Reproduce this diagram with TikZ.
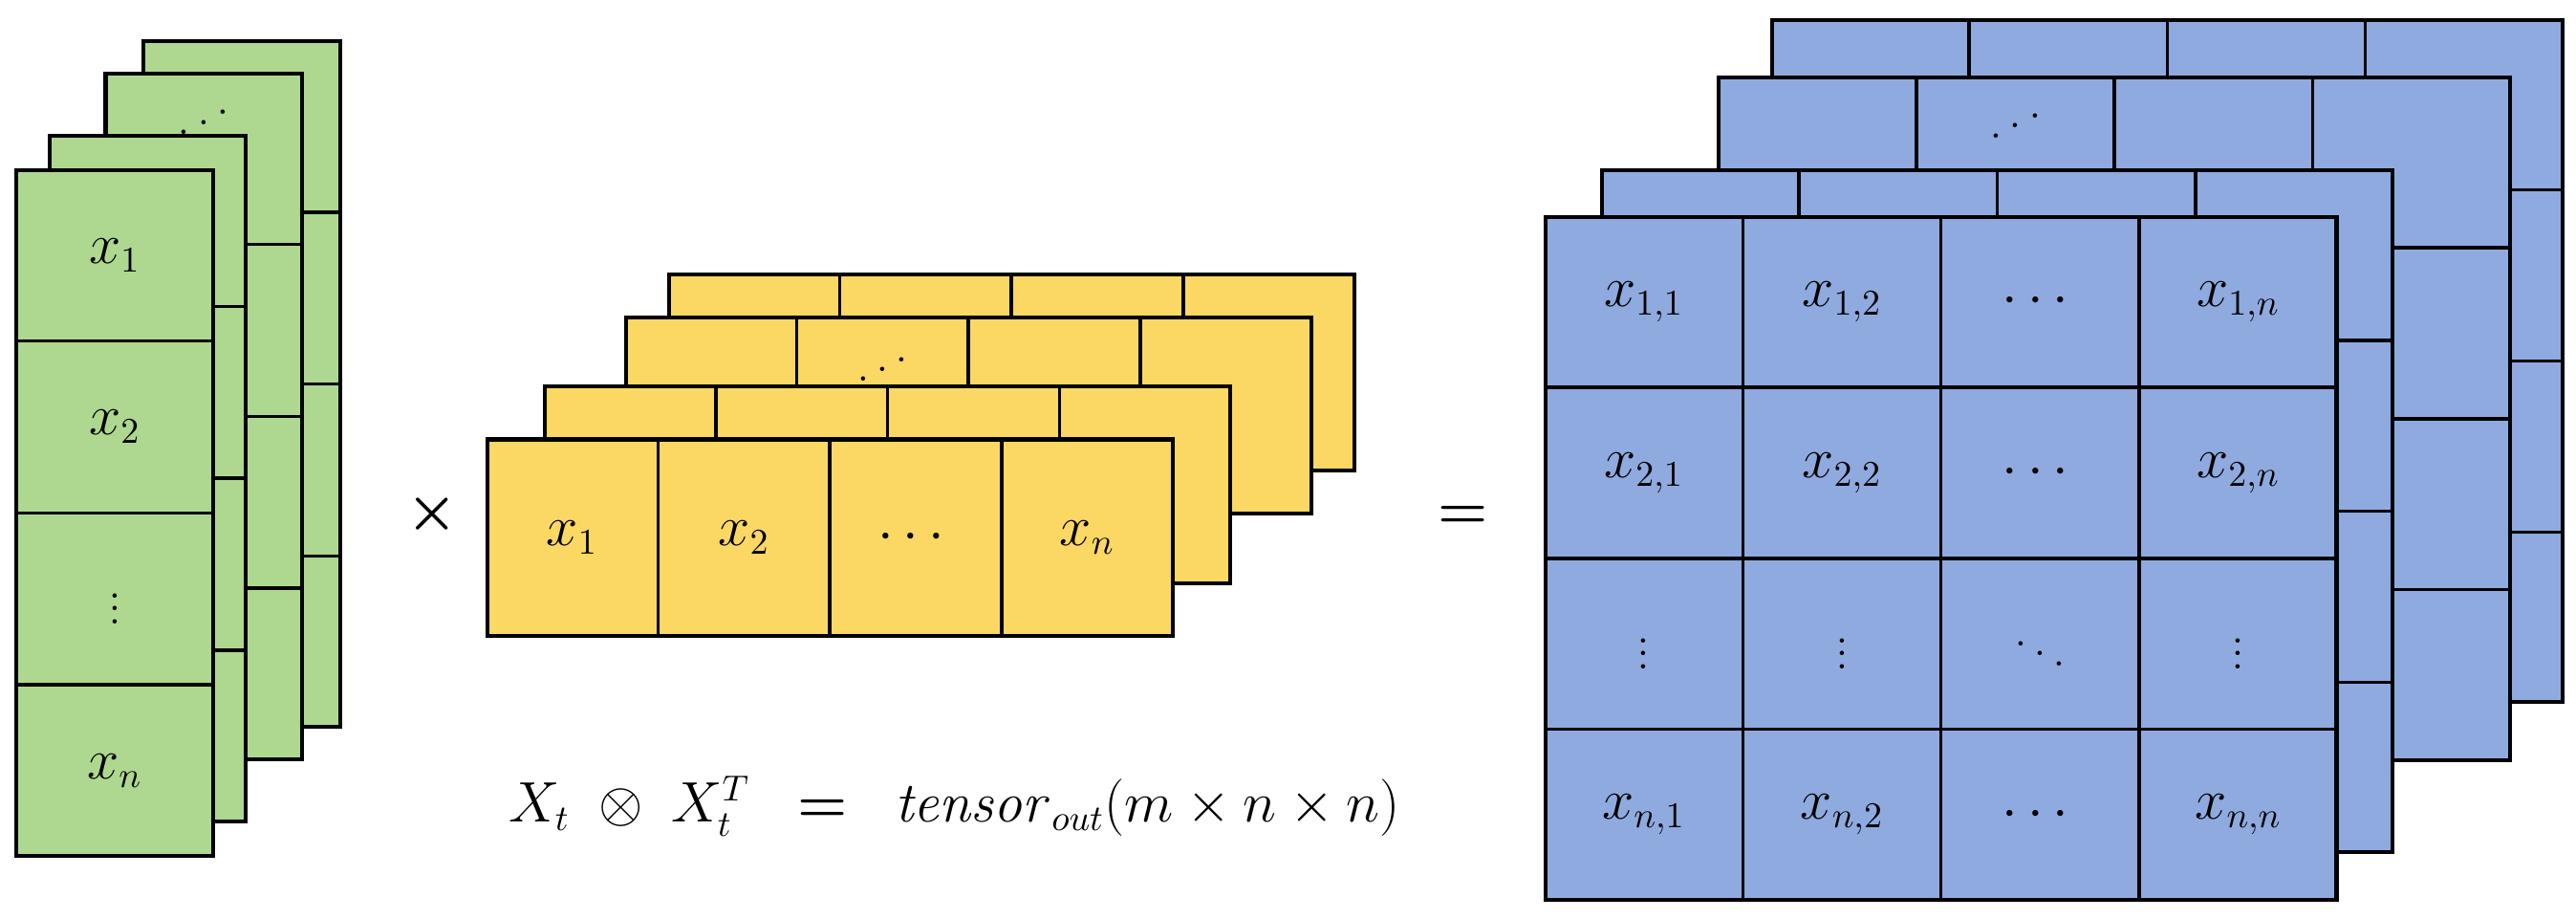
\documentclass[tikz,border=0pt]{standalone}
\usepackage{amsmath}
\usepackage{amssymb}
\usepackage{tikz}
\definecolor{vecgreen}{HTML}{AED890}
\definecolor{vecyellow}{HTML}{FBD864}
\definecolor{outblue}{HTML}{8FAADF}
\newcommand{\updotsx}{\mathinner{\mkern1mu\raise1pt\hbox{.}\mkern2mu\raise4pt\hbox{.}\mkern2mu\raise7pt\vbox{\kern7pt\hbox{.}}\mkern1mu}}

\begin{document}
\begin{tikzpicture}[
      x=0.5pt, y=-0.5pt,
      cell/.style={draw,line width=0.5pt,inner sep=0pt,outer sep=0pt,anchor=north west},
      gcell/.style={cell,fill=vecgreen,minimum width=59.5pt,minimum height=51.5pt},
      ycell/.style={cell,fill=vecyellow,minimum width=51.5pt,minimum height=59.5pt},
      bcell/.style={cell,fill=outblue,minimum width=59.5pt,minimum height=51.25pt},
      lbl/.style={font=\fontsize{16}{18}\selectfont,inner sep=1pt},
      frame/.style={line width=1.2pt},
      op/.style={font=\fontsize{18}{20}\selectfont}
    ]
    \useasboundingbox (0,0) rectangle (1560,556);
    % Green column stacks, back to front.
    \foreach \x/\y/\n in {87/25/g4, 64/44.5/g3, 30/82/g2, 10/103/g1} {
      \foreach \i in {1,...,4}
        \node[gcell] (\n-\i) at (\x,{\y+(\i-1)*104}) {};
      \draw[frame] (\n-1.north west) rectangle (\n-4.south east);
    }
    \node[lbl] at (g3-1.center) [yshift=14pt] {$\updotsx$};
    \node[lbl] at (g1-1.center) {$x_1$};
    \node[lbl] at (g1-2.center) {$x_2$};
    \node[lbl] at (g1-3.center) {$\vdots$};
    \node[lbl] at (g1-4.center) {$x_n$};
    % Yellow row stacks.
    \foreach \x/\y/\n in {405/166/y4, 379/192/y3, 330/234/y2, 295/266/y1} {
      \foreach \i in {1,...,4}
        \node[ycell] (\n-\i) at ({\x+(\i-1)*104},\y) {};
      \draw[frame] (\n-1.north west) rectangle (\n-4.south east);
    }
    \node[lbl] at (y3-2.center) [yshift=17pt] {$\updotsx$};
    \node[lbl] at (y1-1.center) {$x_1$};
    \node[lbl] at (y1-2.center) {$x_2$};
    \node[lbl] at (y1-3.center) {$\cdots$};
    \node[lbl] at (y1-4.center) {$x_n$};
    % Blue output stacks.
    \foreach \x/\y/\n in {1073/12/b4, 1041/47/b3, 970/103/b2, 936/131.5/b1} {
      \foreach \i in {1,...,4}
        \foreach \j in {1,...,4}
          \node[bcell] (\n-\i-\j) at ({\x+(\j-1)*120},{\y+(\i-1)*103.5}) {};
      \draw[frame] (\n-1-1.north west) rectangle (\n-4-4.south east);
    }
    \node[lbl] at (b3-1-2.center) [yshift=14pt] {$\updotsx$};
    \foreach \j/\c in {1/1,2/2,4/n} {
      \node[lbl] at (b1-1-\j.center) {$x_{1,\c}$};
      \node[lbl] at (b1-2-\j.center) {$x_{2,\c}$};
      \node[lbl] at (b1-3-\j.center) {$\vdots$};
      \node[lbl] at (b1-4-\j.center) {$x_{n,\c}$};
    }
    \node[lbl] at (b1-1-3.center) {$\cdots$};
    \node[lbl] at (b1-2-3.center) {$\cdots$};
    \node[lbl] at (b1-3-3.center) {$\ddots$};
    \node[lbl] at (b1-4-3.center) {$\cdots$};
    % Operators and caption.
    \node[op] (times) at (262,311) {$\boldsymbol{\times}$};
    \node[op] (equals) at (886,313) {$\boldsymbol{=}$};
    \node[lbl] (caption) at (578,488)
      {$X_t \;\otimes\; X_t^T \;\;\boldsymbol{=}\;\; \mathit{tensor}_{out}(m \times n \times n)$};
\end{tikzpicture}
\end{document}
